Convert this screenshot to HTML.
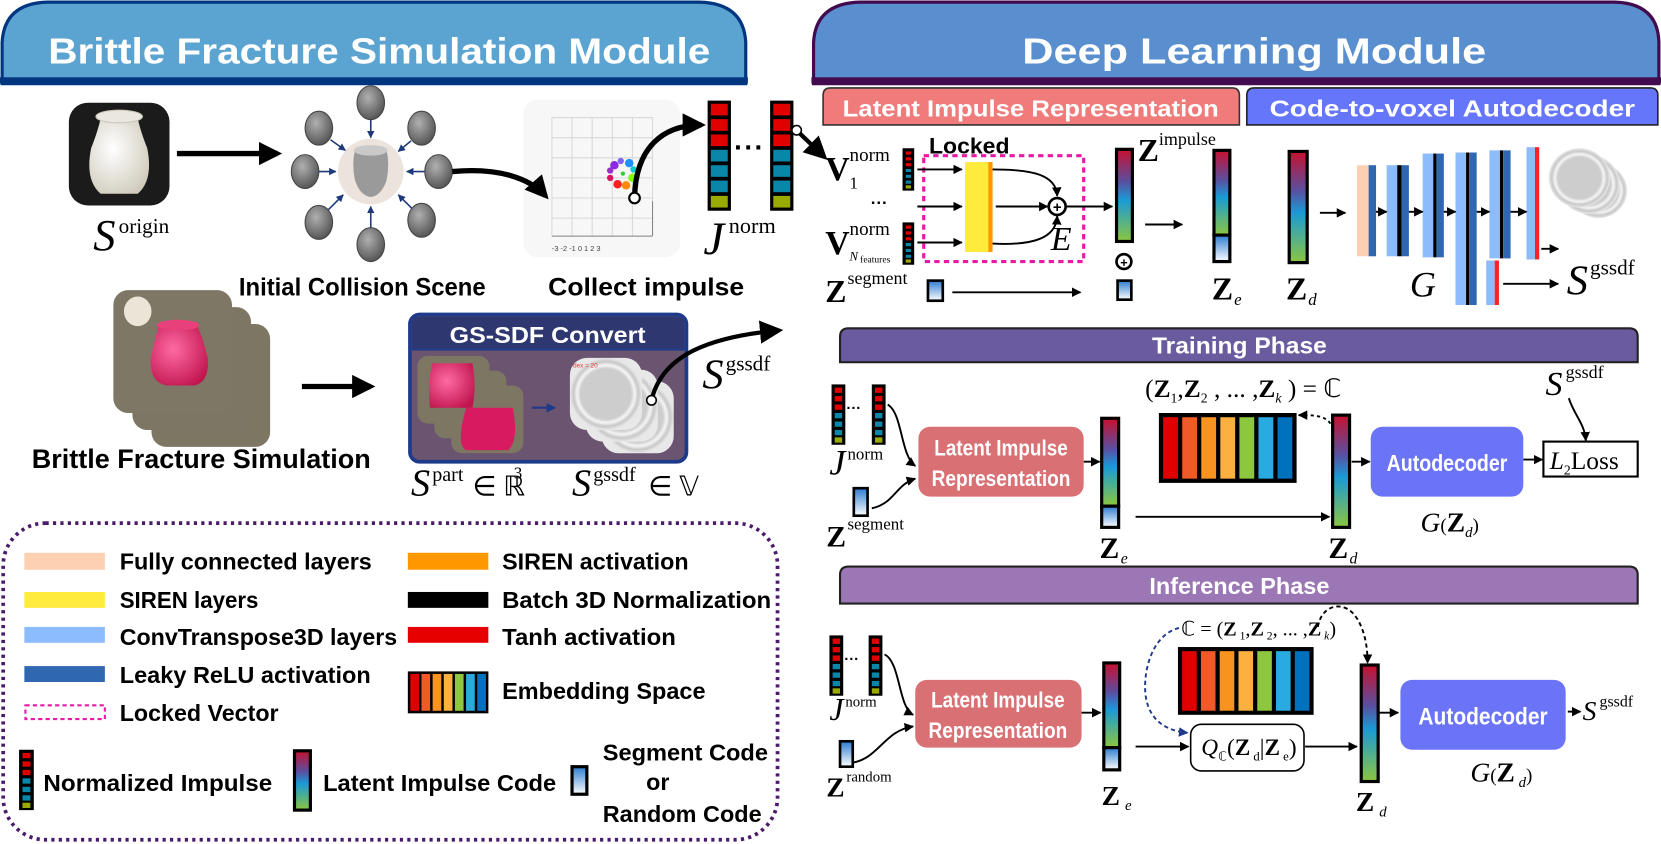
<!DOCTYPE html>
<html><head><meta charset="utf-8"><style>
html,body{margin:0;padding:0;background:#fff;}
svg{display:block;}
.b{font-family:"Liberation Sans",sans-serif;font-weight:bold;}
.m{font-family:"Liberation Serif",serif;}
</style></head><body>
<svg width="1661" height="844" viewBox="0 0 1568 797" preserveAspectRatio="none" xmlns="http://www.w3.org/2000/svg">
<defs>
<linearGradient id="lat" x1="0" y1="0" x2="0" y2="1"><stop offset="0" stop-color="#c8102e"/><stop offset="0.35" stop-color="#5a4fa0"/><stop offset="0.55" stop-color="#1a9ad6"/><stop offset="1" stop-color="#8cc63f"/></linearGradient>
<linearGradient id="seg" x1="0" y1="0" x2="0" y2="1"><stop offset="0" stop-color="#2b7bd0"/><stop offset="1" stop-color="#ffffff"/></linearGradient>
<radialGradient id="ball" cx="0.4" cy="0.35" r="0.7"><stop offset="0" stop-color="#b0b0b0"/><stop offset="1" stop-color="#505050"/></radialGradient>
<radialGradient id="disc" cx="0.5" cy="0.5" r="0.5"><stop offset="0.7" stop-color="#cdcdcd"/><stop offset="0.8" stop-color="#f5f5f5"/><stop offset="0.9" stop-color="#c8c8c8"/><stop offset="1" stop-color="#e8e8e8"/></radialGradient>
<radialGradient id="vase" cx="0.4" cy="0.4" r="0.7"><stop offset="0" stop-color="#ffffff"/><stop offset="1" stop-color="#cfcabb"/></radialGradient>
<radialGradient id="pink" cx="0.4" cy="0.4" r="0.7"><stop offset="0" stop-color="#ff6aa4"/><stop offset="1" stop-color="#c0144e"/></radialGradient>
<marker id="a" viewBox="0 0 10 10" refX="9" refY="5" markerWidth="9" markerHeight="9" markerUnits="userSpaceOnUse" orient="auto"><path d="M0,0L10,5L0,10z" fill="#000"/></marker>
<marker id="A" viewBox="0 0 10 10" refX="8" refY="5" markerWidth="22" markerHeight="22" markerUnits="userSpaceOnUse" orient="auto"><path d="M0,0L10,5L0,10z" fill="#000"/></marker>
<marker id="n" viewBox="0 0 10 10" refX="9" refY="5" markerWidth="7" markerHeight="7" markerUnits="userSpaceOnUse" orient="auto"><path d="M0,0L10,5L0,10z" fill="#1f3a78"/></marker>
<marker id="nb" viewBox="0 0 10 10" refX="9" refY="5" markerWidth="9" markerHeight="9" markerUnits="userSpaceOnUse" orient="auto"><path d="M0,0L10,5L0,10z" fill="#1f3a8a"/></marker>
<symbol id="imp" overflow="visible">
<rect x="0" y="0" width="22" height="104" fill="#000"/>
<rect x="3" y="3" width="16" height="11" fill="#e00000"/><rect x="3" y="17.5" width="16" height="11" fill="#e00000"/><rect x="3" y="32" width="16" height="11" fill="#e00000"/>
<rect x="3" y="46.5" width="16" height="11" fill="#0a86a8"/><rect x="3" y="61" width="16" height="11" fill="#0a86a8"/><rect x="3" y="75.5" width="16" height="11" fill="#0a86a8"/>
<rect x="3" y="90" width="16" height="11" fill="#99aa00"/>
</symbol>
<symbol id="impM" overflow="visible">
<rect x="0" y="0" width="13" height="57" fill="#000"/>
<rect x="3" y="3" width="7" height="5" fill="#e00000"/><rect x="3" y="11" width="7" height="5" fill="#e00000"/><rect x="3" y="19" width="7" height="5" fill="#e00000"/>
<rect x="3" y="27" width="7" height="5" fill="#0a86a8"/><rect x="3" y="35" width="7" height="5" fill="#0a86a8"/><rect x="3" y="43" width="7" height="5" fill="#0a86a8"/>
<rect x="3" y="50" width="7" height="5" fill="#99aa00"/>
</symbol>
<symbol id="impS" overflow="visible">
<rect x="0" y="0" width="11" height="40" fill="#000"/>
<rect x="3" y="3" width="5" height="3" fill="#e00000"/><rect x="3" y="8.5" width="5" height="3" fill="#e00000"/><rect x="3" y="14" width="5" height="3" fill="#e00000"/>
<rect x="3" y="19.5" width="5" height="3" fill="#0a86a8"/><rect x="3" y="25" width="5" height="3" fill="#0a86a8"/><rect x="3" y="30.5" width="5" height="3" fill="#0a86a8"/>
<rect x="3" y="35" width="5" height="3" fill="#99aa00"/>
</symbol>
<symbol id="emb" overflow="visible">
<rect x="0" y="0" width="130" height="66" fill="#000"/>
<rect x="4" y="4" width="14" height="58" fill="#e00000"/><rect x="22" y="4" width="14" height="58" fill="#f05a28"/><rect x="40" y="4" width="14" height="58" fill="#f7931e"/><rect x="58" y="4" width="14" height="58" fill="#fbb040"/><rect x="76" y="4" width="14" height="58" fill="#8dc63f"/><rect x="94" y="4" width="14" height="58" fill="#29abe2"/><rect x="112" y="4" width="14" height="58" fill="#0071bc"/>
</symbol>
</defs>

<!-- Headers -->
<path d="M2,79 L2,40 Q4,3 45,2 L660,2 Q702,3 704,40 L704,79 Z" fill="#5ba4d2" stroke="#003580" stroke-width="3"/>
<rect x="0" y="73" width="706" height="6" fill="#003580"/>
<text x="358" y="60" class="b" font-size="34" fill="#fff" text-anchor="middle" textLength="625" lengthAdjust="spacingAndGlyphs">Brittle Fracture Simulation Module</text>
<path d="M768,79 L768,40 Q770,3 812,2 L1524,2 Q1565,3 1566,40 L1566,79 Z" fill="#5a8fcf" stroke="#420a4f" stroke-width="3"/>
<rect x="766" y="73" width="802" height="6" fill="#420a4f"/>
<text x="1184" y="60" class="b" font-size="34" fill="#fff" text-anchor="middle" textLength="438" lengthAdjust="spacingAndGlyphs">Deep Learning Module</text>

<!-- origin vase -->
<rect x="65" y="97" width="95" height="97" rx="18" fill="#1b1b1b"/>
<path d="M95,112 Q92,125 86,140 Q80,170 95,183 L130,183 Q145,170 139,140 Q133,125 130,112 Z" fill="url(#vase)"/>
<ellipse cx="112.5" cy="110" rx="22" ry="6" fill="#e9e7df" stroke="#c8c5b8"/>
<text x="88" y="236" class="m" font-size="42" font-style="italic">S</text>
<text x="112" y="220" class="m" font-size="20">origin</text>
<line x1="167" y1="145" x2="262" y2="145" stroke="#000" stroke-width="5" marker-end="url(#A)"/>

<!-- plot (drawn first so arrow overlays it) -->
<rect x="494" y="94" width="148" height="149" rx="14" fill="#f7f7f7"/>
<g stroke="#d8d8d8" stroke-width="1" fill="none">
<path d="M521,111 L616,111 M521,130 L616,130 M521,149 L616,149 M521,168 L616,168 M521,187 L616,187 M521,206 L616,206 M521,223 L616,223"/>
<path d="M521,111 L521,223 M540,111 L540,223 M559,111 L559,223 M578,111 L578,223 M597,111 L597,223 M616,111 L616,223"/>
</g>
<path d="M521,223 L616,223 M616,190 L616,223" stroke="#888" stroke-width="1"/>
<g>
<circle cx="580" cy="156" r="4" fill="#8a2be2"/><circle cx="586" cy="152" r="3" fill="#7b68ee"/><circle cx="594" cy="154" r="4" fill="#1e90ff"/><circle cx="598" cy="160" r="3" fill="#00ced1"/><circle cx="597" cy="168" r="4" fill="#7fff00"/><circle cx="591" cy="175" r="4" fill="#ff8c00"/><circle cx="583" cy="174" r="4" fill="#ff2020"/><circle cx="576" cy="168" r="3" fill="#e0115f"/><circle cx="576" cy="161" r="3" fill="#9932cc"/><circle cx="588" cy="164" r="2" fill="#32cd32"/>
</g>
<text x="521" y="237" font-family="Liberation Sans" font-size="7" fill="#444">-3  -2  -1   0   1   2   3</text>

<!-- collision scene -->
<ellipse cx="350" cy="162" rx="31" ry="31" fill="#ece4dc"/>
<path d="M335,142 Q332,155 335,170 Q340,185 350,186 Q360,185 365,170 Q368,155 365,142 Z" fill="#9a9a9a"/>
<ellipse cx="350" cy="142" rx="16" ry="5" fill="#c9c9c9"/>
<g fill="url(#ball)" stroke="#444" stroke-width="1">
<ellipse cx="350" cy="97" rx="13" ry="16"/><ellipse cx="301" cy="121" rx="13" ry="16"/><ellipse cx="398" cy="121" rx="13" ry="16"/>
<ellipse cx="288" cy="162" rx="13" ry="16"/><ellipse cx="414" cy="162" rx="13" ry="16"/>
<ellipse cx="301" cy="210" rx="13" ry="16"/><ellipse cx="398" cy="208" rx="13" ry="16"/><ellipse cx="350" cy="231" rx="13" ry="16"/>
</g>
<g stroke="#1f3a78" stroke-width="1.5" marker-end="url(#n)">
<line x1="350" y1="113" x2="350" y2="130"/><line x1="312" y1="132" x2="326" y2="142"/><line x1="388" y1="133" x2="376" y2="143"/>
<line x1="301" y1="162" x2="317" y2="162"/><line x1="401" y1="162" x2="384" y2="162"/>
<line x1="310" y1="198" x2="324" y2="184"/><line x1="389" y1="197" x2="376" y2="184"/><line x1="350" y1="215" x2="350" y2="195"/>
</g>
<path d="M427,162 C470,158 500,168 515,185" fill="none" stroke="#000" stroke-width="5" marker-end="url(#A)"/>
<text x="342" y="279" class="b" font-size="24" text-anchor="middle" textLength="233" lengthAdjust="spacingAndGlyphs">Initial Collision Scene</text>

<path d="M599,187 C600,140 625,118 662,118" fill="none" stroke="#000" stroke-width="5" marker-end="url(#A)"/>
<circle cx="599" cy="187" r="5" fill="#fff" stroke="#000" stroke-width="2"/>
<text x="610" y="279" class="b" font-size="24" text-anchor="middle" textLength="185" lengthAdjust="spacingAndGlyphs">Collect impulse</text>

<!-- impulse bars -->
<use href="#imp" x="668" y="95"/>
<use href="#imp" x="727" y="95"/>
<text x="693" y="148" class="b" font-size="26" letter-spacing="1">···</text>
<text x="664" y="240" class="m" font-size="44" font-style="italic">J</text>
<text x="688" y="220" class="m" font-size="21">norm</text>
<path d="M755,126 L778,148" stroke="#000" stroke-width="4" marker-end="url(#A)"/>
<circle cx="752" cy="123" r="4.5" fill="#fff" stroke="#000" stroke-width="1.5"/>

<!-- bottom left photos -->
<rect x="143" y="306" width="112" height="116" rx="14" fill="#7c7663"/>
<rect x="125" y="290" width="112" height="116" rx="14" fill="#7d7664"/>
<rect x="107" y="274" width="112" height="116" rx="14" fill="#7e7765"/>
<ellipse cx="130" cy="294" rx="13" ry="14" fill="#ece4d6"/>
<path d="M150,307 Q145,325 142,340 Q142,362 158,364 L184,364 Q198,360 196,338 Q192,320 186,307 Z" fill="url(#pink)"/>
<ellipse cx="168" cy="307" rx="20" ry="5" fill="#e8407a"/>
<text x="30" y="442" class="b" font-size="25" textLength="320" lengthAdjust="spacingAndGlyphs">Brittle Fracture Simulation</text>
<line x1="285" y1="365" x2="350" y2="365" stroke="#000" stroke-width="5" marker-end="url(#A)"/>

<!-- GS-SDF box -->
<rect x="387" y="297" width="261" height="139" rx="9" fill="#6a5470" stroke="#1e3a8a" stroke-width="3.5"/>
<path d="M389,329 L389,306 Q389,299 396,299 L639,299 Q646,299 646,306 L646,329 Z" fill="#2e3770"/>
<line x1="389" y1="330" x2="646" y2="330" stroke="#1e3a8a" stroke-width="2"/>
<text x="517" y="324" class="b" font-size="22" fill="#fff" text-anchor="middle" textLength="185" lengthAdjust="spacingAndGlyphs">GS-SDF Convert</text>
<rect x="426" y="364" width="68" height="64" rx="10" fill="#7c7663"/>
<rect x="410" y="350" width="68" height="64" rx="10" fill="#7c7663"/>
<rect x="394" y="336" width="68" height="64" rx="10" fill="#7c7663"/>
<path d="M440,385 Q430,420 440,425 L480,425 Q490,415 484,385 Z" fill="#d81b60"/>
<path d="M408,343 Q403,365 406,385 L446,385 Q450,365 446,343 Z" fill="url(#pink)"/>
<line x1="502" y1="385" x2="524" y2="385" stroke="#1f3a8a" stroke-width="2" marker-end="url(#nb)"/>
<rect x="568" y="360" width="68" height="68" rx="16" fill="url(#disc)"/>
<rect x="553" y="349" width="68" height="68" rx="16" fill="url(#disc)"/>
<rect x="538" y="338" width="68" height="68" rx="16" fill="url(#disc)"/>
<text x="541" y="347" font-family="Liberation Sans" font-size="6" fill="#e33">dex = 20</text>
<path d="M615,378 C625,335 670,318 735,312" fill="none" stroke="#000" stroke-width="4" marker-end="url(#A)"/>
<circle cx="615" cy="378" r="4.5" fill="#fff" stroke="#000" stroke-width="1.5"/>
<text x="663" y="367" class="m" font-size="40" font-style="italic">S</text>
<text x="685" y="350" class="m" font-size="20">gssdf</text>
<text x="388" y="468" class="m" font-size="36" font-style="italic">S</text>
<text x="408" y="454" class="m" font-size="19">part</text>
<text x="446" y="468" class="m" font-size="26">∈ ℝ</text>
<text x="485" y="452" class="m" font-size="16">3</text>
<text x="540" y="468" class="m" font-size="36" font-style="italic">S</text>
<text x="560" y="454" class="m" font-size="19">gssdf</text>
<text x="612" y="468" class="m" font-size="26">∈ 𝕍</text>

<!-- legend -->
<rect x="3" y="494" width="731" height="299" rx="40" fill="none" stroke="#4a1a6b" stroke-width="3.5" stroke-dasharray="3,4"/>
<g class="b" font-size="22">
<rect x="23" y="522" width="76" height="16" fill="#fdd0b1"/><text x="113" y="538" textLength="238" lengthAdjust="spacingAndGlyphs">Fully connected layers</text>
<rect x="23" y="559" width="76" height="15" fill="#ffeb3b"/><text x="113" y="574" textLength="131" lengthAdjust="spacingAndGlyphs">SIREN layers</text>
<rect x="23" y="592" width="76" height="15" fill="#8cbcfb"/><text x="113" y="609" textLength="262" lengthAdjust="spacingAndGlyphs">ConvTranspose3D layers</text>
<rect x="23" y="629" width="76" height="15" fill="#2f67b1"/><text x="113" y="645" textLength="237" lengthAdjust="spacingAndGlyphs">Leaky ReLU activation</text>
<rect x="24" y="666" width="75" height="13" fill="none" stroke="#e61aa6" stroke-width="2" stroke-dasharray="4,3"/><text x="113" y="681" textLength="150" lengthAdjust="spacingAndGlyphs">Locked Vector</text>
<rect x="385" y="522" width="76" height="16" fill="#ff9800"/><text x="474" y="538" textLength="176" lengthAdjust="spacingAndGlyphs">SIREN activation</text>
<rect x="385" y="559" width="76" height="15" fill="#000"/><text x="474" y="574" textLength="254" lengthAdjust="spacingAndGlyphs">Batch 3D Normalization</text>
<rect x="385" y="592" width="76" height="15" fill="#e60000"/><text x="474" y="609" textLength="164" lengthAdjust="spacingAndGlyphs">Tanh activation</text>
<text x="474" y="660" textLength="192" lengthAdjust="spacingAndGlyphs">Embedding Space</text>
<text x="41" y="747" textLength="216" lengthAdjust="spacingAndGlyphs">Normalized Impulse</text>
<text x="305" y="747" textLength="220" lengthAdjust="spacingAndGlyphs">Latent Impulse Code</text>
<text x="569" y="718" textLength="156" lengthAdjust="spacingAndGlyphs">Segment Code</text>
<text x="610" y="746" textLength="22" lengthAdjust="spacingAndGlyphs">or</text>
<text x="569" y="776" textLength="150" lengthAdjust="spacingAndGlyphs">Random Code</text>
</g>
<g transform="translate(385,634) scale(0.585,0.6)"><use href="#emb"/></g>
<g transform="translate(18,708) scale(1.07,1.0)"><use href="#impM"/></g>
<rect x="278" y="709" width="15" height="56" fill="url(#lat)" stroke="#000" stroke-width="3"/>
<rect x="540" y="724" width="14" height="26" fill="url(#seg)" stroke="#000" stroke-width="3"/>

<!-- ===== Deep learning top ===== -->
<path d="M777,118 L777,90 Q777,83 784,83 L1163,83 Q1170,83 1170,90 L1170,118 Z" fill="#ef7b7b" stroke="#333" stroke-width="1.5"/>
<text x="973" y="110" class="b" font-size="22" fill="#fff" text-anchor="middle" textLength="355" lengthAdjust="spacingAndGlyphs">Latent Impulse Representation</text>
<path d="M1177,118 L1177,90 Q1177,83 1184,83 L1558,83 Q1565,83 1565,90 L1565,118 Z" fill="#6676fb" stroke="#222" stroke-width="1.5"/>
<text x="1371" y="110" class="b" font-size="22" fill="#fff" text-anchor="middle" textLength="345" lengthAdjust="spacingAndGlyphs">Code-to-voxel Autodecoder</text>

<text x="779" y="170" class="m" font-size="32" font-weight="bold">V</text>
<text x="802" y="152" class="m" font-size="18">norm</text>
<text x="802" y="178" class="m" font-size="16">1</text>
<use href="#impS" x="852" y="140"/>
<text x="822" y="197" class="b" font-size="16">···</text>
<text x="779" y="240" class="m" font-size="32" font-weight="bold">V</text>
<text x="802" y="222" class="m" font-size="18">norm</text>
<text x="802" y="246" class="m" font-size="12" font-style="italic">N</text><text x="812" y="248" class="m" font-size="9">features</text>
<use href="#impS" x="852" y="210"/>
<text x="877" y="145" class="b" font-size="21" textLength="76" lengthAdjust="spacingAndGlyphs">Locked</text>
<rect x="872" y="147" width="151" height="100" fill="none" stroke="#e61aa6" stroke-width="3" stroke-dasharray="5,4"/>
<rect x="911" y="153" width="23" height="85" fill="#ffeb3b"/>
<rect x="933" y="153" width="4" height="85" fill="#ff9800"/>
<g stroke="#000" stroke-width="1.8" fill="none">
<line x1="866" y1="160" x2="908" y2="160" marker-end="url(#a)"/>
<line x1="866" y1="195" x2="908" y2="195" marker-end="url(#a)"/>
<line x1="866" y1="229" x2="908" y2="229" marker-end="url(#a)"/>
<path d="M937,160 C975,160 997,165 998,185" marker-end="url(#a)"/>
<line x1="940" y1="195" x2="989" y2="195" marker-end="url(#a)"/>
<path d="M937,230 C975,232 997,225 998,204" marker-end="url(#a)"/>
<line x1="1007" y1="195" x2="1050" y2="195" marker-end="url(#a)"/>
</g>
<circle cx="998" cy="195" r="8" fill="#fff" stroke="#000" stroke-width="2.5"/>
<text x="998" y="200" font-family="Liberation Sans" font-size="14" font-weight="bold" text-anchor="middle">+</text>
<text x="992" y="236" class="m" font-size="32" font-style="italic">E</text>
<rect x="1054" y="141" width="15" height="87" fill="url(#lat)" stroke="#000" stroke-width="3"/>
<text x="1074" y="152" class="m" font-size="30" font-weight="bold">Z</text>
<text x="1094" y="137" class="m" font-size="17">impulse</text>
<circle cx="1061" cy="247" r="7" fill="#fff" stroke="#000" stroke-width="2.5"/>
<text x="1061" y="252" font-family="Liberation Sans" font-size="12" font-weight="bold" text-anchor="middle">+</text>
<rect x="1055" y="265" width="13" height="18" fill="url(#seg)" stroke="#000" stroke-width="2.5"/>
<line x1="1081" y1="212" x2="1116" y2="212" stroke="#000" stroke-width="1.8" marker-end="url(#a)"/>
<rect x="1146" y="142" width="15" height="80" fill="url(#lat)" stroke="#000" stroke-width="3"/>
<rect x="1146" y="222" width="15" height="25" fill="url(#seg)" stroke="#000" stroke-width="3"/>
<text x="779" y="285" class="m" font-size="30" font-weight="bold">Z</text>
<text x="800" y="268" class="m" font-size="17">segment</text>
<rect x="876" y="265" width="14" height="19" fill="url(#seg)" stroke="#000" stroke-width="2.5"/>
<line x1="899" y1="276" x2="1020" y2="276" stroke="#000" stroke-width="1.8" marker-end="url(#a)"/>
<text x="1144" y="283" class="m" font-size="30" font-weight="bold">Z</text><text x="1165" y="288" class="m" font-size="16" font-style="italic">e</text>
<rect x="1217" y="143" width="17" height="105" fill="url(#lat)" stroke="#000" stroke-width="3"/>
<text x="1214" y="283" class="m" font-size="30" font-weight="bold">Z</text><text x="1235" y="288" class="m" font-size="16" font-style="italic">d</text>
<line x1="1246" y1="201" x2="1270" y2="201" stroke="#000" stroke-width="1.8" marker-end="url(#a)"/>
<!-- decoder layers -->
<rect x="1281" y="156" width="11" height="86" fill="#fdd0b1"/><rect x="1292" y="156" width="7" height="86" fill="#2f67b1"/>
<rect x="1309" y="156" width="10" height="86" fill="#8cbcfb"/><rect x="1319" y="156" width="4" height="86" fill="#000"/><rect x="1323" y="156" width="7" height="86" fill="#2f67b1"/>
<rect x="1343" y="145" width="10" height="98" fill="#8cbcfb"/><rect x="1353" y="145" width="3" height="98" fill="#000"/><rect x="1356" y="145" width="7" height="98" fill="#2f67b1"/>
<rect x="1374" y="144" width="10" height="144" fill="#8cbcfb"/><rect x="1384" y="144" width="3" height="144" fill="#000"/><rect x="1387" y="144" width="7" height="144" fill="#2f67b1"/>
<rect x="1406" y="142" width="10" height="102" fill="#8cbcfb"/><rect x="1416" y="142" width="3" height="102" fill="#000"/><rect x="1419" y="142" width="7" height="102" fill="#2f67b1"/>
<rect x="1441" y="139" width="8" height="106" fill="#8cbcfb"/><rect x="1449" y="139" width="4" height="106" fill="#ff2020"/>
<rect x="1403" y="246" width="8" height="42" fill="#8cbcfb"/><rect x="1411" y="246" width="4" height="42" fill="#ff2020"/>
<g stroke="#000" stroke-width="1.8">
<line x1="1299" y1="200" x2="1309" y2="200" marker-end="url(#a)"/>
<line x1="1330" y1="200" x2="1343" y2="200" marker-end="url(#a)"/>
<line x1="1363" y1="200" x2="1374" y2="200" marker-end="url(#a)"/>
<line x1="1394" y1="200" x2="1406" y2="200" marker-end="url(#a)"/>
<line x1="1426" y1="200" x2="1441" y2="200" marker-end="url(#a)"/>
<line x1="1455" y1="235" x2="1471" y2="235" marker-end="url(#a)"/>
<line x1="1419" y1="268" x2="1471" y2="268" marker-end="url(#a)"/>
</g>
<ellipse cx="1509" cy="180" rx="27" ry="26" fill="url(#disc)"/>
<ellipse cx="1500" cy="174" rx="29" ry="28" fill="url(#disc)"/>
<ellipse cx="1491" cy="168" rx="29" ry="28" fill="url(#disc)"/>
<text x="1331" y="280" class="m" font-size="34" font-style="italic">G</text>
<text x="1479" y="278" class="m" font-size="40" font-style="italic">S</text>
<text x="1501" y="259" class="m" font-size="20">gssdf</text>

<!-- Training phase -->
<path d="M793,342 L793,318 Q793,310 801,310 L1538,310 Q1546,310 1546,318 L1546,342 Z" fill="#6a5a9e" stroke="#222" stroke-width="2"/>
<text x="1170" y="334" class="b" font-size="22" fill="#fff" text-anchor="middle" textLength="165" lengthAdjust="spacingAndGlyphs">Training Phase</text>
<text x="1081" y="375" class="m" font-size="24">(<tspan font-weight="bold">Z</tspan><tspan font-size="13" dy="5">1</tspan><tspan dy="-5">,</tspan><tspan font-weight="bold">Z</tspan><tspan font-size="13" dy="5">2</tspan><tspan dy="-5"> , ... ,</tspan><tspan font-weight="bold">Z</tspan><tspan font-size="13" dy="5" font-style="italic">k</tspan><tspan dy="-5"> ) = ℂ</tspan></text>
<use href="#impM" x="785" y="363"/><use href="#impM" x="823" y="363"/>
<text x="799" y="390" class="b" font-size="14">···</text>
<text x="783" y="448" class="m" font-size="34" font-style="italic">J</text>
<text x="800" y="434" class="m" font-size="16">norm</text>
<rect x="806" y="461" width="13" height="26" fill="url(#seg)" stroke="#000" stroke-width="2.5"/>
<text x="780" y="516" class="m" font-size="28" font-weight="bold">Z</text>
<text x="800" y="500" class="m" font-size="16">segment</text>
<g stroke="#000" stroke-width="1.8" fill="none">
<path d="M838,382 C852,390 850,430 864,440" marker-end="url(#a)"/>
<path d="M823,480 C845,475 845,458 864,452" marker-end="url(#a)"/>
<line x1="1023" y1="436" x2="1038" y2="436" marker-end="url(#a)"/>
<line x1="1072" y1="488" x2="1255" y2="488" marker-end="url(#a)"/>
<line x1="1276" y1="436" x2="1293" y2="436" marker-end="url(#a)"/>
<line x1="1438" y1="434" x2="1456" y2="434" marker-end="url(#a)"/>
<path d="M1481,376 C1486,392 1496,400 1497,416" marker-end="url(#a)"/>
<path d="M1256,400 C1250,392 1240,392 1226,392" stroke-dasharray="3,3" marker-end="url(#a)"/>
</g>
<rect x="867" y="403" width="156" height="66" rx="11" fill="#d97074"/>
<text x="945" y="430" class="b" font-size="21" fill="#fff" text-anchor="middle" textLength="126" lengthAdjust="spacingAndGlyphs">Latent Impulse</text>
<text x="945" y="459" class="b" font-size="21" fill="#fff" text-anchor="middle" textLength="131" lengthAdjust="spacingAndGlyphs">Representation</text>
<rect x="1040" y="395" width="16" height="83" fill="url(#lat)" stroke="#000" stroke-width="3"/>
<rect x="1040" y="478" width="16" height="20" fill="url(#seg)" stroke="#000" stroke-width="3"/>
<text x="1038" y="527" class="m" font-size="28" font-weight="bold">Z</text><text x="1058" y="532" class="m" font-size="15" font-style="italic">e</text>
<use href="#emb" x="1094" y="390"/>
<rect x="1258" y="392" width="16" height="106" fill="url(#lat)" stroke="#000" stroke-width="3"/>
<text x="1254" y="527" class="m" font-size="28" font-weight="bold">Z</text><text x="1274" y="532" class="m" font-size="15" font-style="italic">d</text>
<rect x="1294" y="403" width="144" height="66" rx="11" fill="#6b74f7"/>
<text x="1366" y="445" class="b" font-size="22" fill="#fff" text-anchor="middle" textLength="114" lengthAdjust="spacingAndGlyphs">Autodecoder</text>
<rect x="1457" y="417" width="89" height="33" fill="#fff" stroke="#000" stroke-width="2"/>
<text x="1463" y="443" class="m" font-size="24"><tspan font-style="italic">L</tspan><tspan font-size="13" dy="5">2</tspan><tspan dy="-5">Loss</tspan></text>
<text x="1459" y="373" class="m" font-size="32" font-style="italic">S</text>
<text x="1478" y="357" class="m" font-size="17">gssdf</text>
<text x="1341" y="502" class="m" font-size="26"><tspan font-style="italic">G</tspan><tspan font-size="18">(</tspan><tspan font-weight="bold">Z</tspan><tspan font-size="14" font-style="italic" dy="5">d</tspan><tspan font-size="18" dy="-5">)</tspan></text>

<!-- Inference phase -->
<path d="M793,570 L793,543 Q793,535 801,535 L1538,535 Q1546,535 1546,543 L1546,570 Z" fill="#9b78b5" stroke="#222" stroke-width="2"/>
<text x="1170" y="561" class="b" font-size="22" fill="#fff" text-anchor="middle" textLength="170" lengthAdjust="spacingAndGlyphs">Inference Phase</text>
<text x="1115" y="600" class="m" font-size="19">ℂ = (<tspan font-weight="bold">Z</tspan><tspan font-size="11" dy="4"> 1</tspan><tspan dy="-4">,</tspan><tspan font-weight="bold">Z</tspan><tspan font-size="11" dy="4"> 2</tspan><tspan dy="-4">, ... ,</tspan><tspan font-weight="bold">Z</tspan><tspan font-size="11" dy="4" font-style="italic"> k</tspan><tspan dy="-4">)</tspan></text>
<use href="#impM" x="783" y="600"/><use href="#impM" x="820" y="600"/>
<text x="797" y="627" class="b" font-size="14">···</text>
<text x="783" y="680" class="m" font-size="30" font-style="italic">J</text>
<text x="798" y="667" class="m" font-size="14">norm</text>
<rect x="793" y="700" width="12" height="24" fill="url(#seg)" stroke="#000" stroke-width="2.5"/>
<text x="780" y="752" class="m" font-size="26" font-weight="bold">Z</text>
<text x="799" y="738" class="m" font-size="14">random</text>
<g stroke="#000" stroke-width="1.8" fill="none">
<path d="M835,618 C850,625 848,668 862,675" marker-end="url(#a)"/>
<path d="M806,720 C830,715 835,690 862,686" marker-end="url(#a)"/>
<line x1="1021" y1="673" x2="1039" y2="673" marker-end="url(#a)"/>
<line x1="1072" y1="705" x2="1122" y2="705" marker-end="url(#a)"/>
<line x1="1232" y1="705" x2="1281" y2="705" marker-end="url(#a)"/>
<line x1="1302" y1="673" x2="1320" y2="673" marker-end="url(#a)"/>
<line x1="1480" y1="672" x2="1492" y2="672" marker-end="url(#a)"/>
<path d="M1244,592 C1248,570 1268,568 1278,580 C1288,592 1291,610 1291,626" stroke-dasharray="4,3" marker-end="url(#a)"/>
</g>
<path d="M1113,593 C1085,600 1078,640 1082,660 C1086,680 1100,690 1121,692" fill="none" stroke="#1f3a8a" stroke-width="1.8" stroke-dasharray="4,3" marker-end="url(#nb)"/>
<rect x="864" y="642" width="157" height="64" rx="11" fill="#d97074"/>
<text x="942" y="668" class="b" font-size="21" fill="#fff" text-anchor="middle" textLength="126" lengthAdjust="spacingAndGlyphs">Latent Impulse</text>
<text x="942" y="697" class="b" font-size="21" fill="#fff" text-anchor="middle" textLength="131" lengthAdjust="spacingAndGlyphs">Representation</text>
<rect x="1042" y="626" width="15" height="80" fill="url(#lat)" stroke="#000" stroke-width="3"/>
<rect x="1042" y="706" width="15" height="21" fill="url(#seg)" stroke="#000" stroke-width="3"/>
<text x="1040" y="760" class="m" font-size="26" font-weight="bold">Z</text><text x="1062" y="765" class="m" font-size="14" font-style="italic">e</text>
<g transform="translate(1112,611) scale(0.985,0.97)"><use href="#emb"/></g>
<rect x="1124" y="684" width="107" height="44" rx="10" fill="#fff" stroke="#000" stroke-width="1.5"/>
<text x="1134" y="713" class="m" font-size="22"><tspan font-style="italic">Q</tspan><tspan font-size="12" dy="5">ℂ</tspan><tspan dy="-5">(</tspan><tspan font-weight="bold">Z</tspan><tspan font-size="12" dy="5"> d</tspan><tspan dy="-5">|</tspan><tspan font-weight="bold">Z</tspan><tspan font-size="12" dy="5"> e</tspan><tspan dy="-5">)</tspan></text>
<rect x="1285" y="628" width="16" height="110" fill="url(#lat)" stroke="#000" stroke-width="3"/>
<text x="1280" y="766" class="m" font-size="26" font-weight="bold">Z</text><text x="1302" y="771" class="m" font-size="14" font-style="italic">d</text>
<rect x="1322" y="642" width="156" height="66" rx="11" fill="#6b74f7"/>
<text x="1400" y="684" class="b" font-size="23" fill="#fff" text-anchor="middle" textLength="122" lengthAdjust="spacingAndGlyphs">Autodecoder</text>
<text x="1494" y="680" class="m" font-size="26" font-style="italic">S</text>
<text x="1510" y="667" class="m" font-size="15">gssdf</text>
<text x="1388" y="738" class="m" font-size="26"><tspan font-style="italic">G</tspan><tspan font-size="18">(</tspan><tspan font-weight="bold">Z</tspan><tspan font-size="14" font-style="italic" dy="5"> d</tspan><tspan font-size="18" dy="-5">)</tspan></text>
</svg>
</body></html>
